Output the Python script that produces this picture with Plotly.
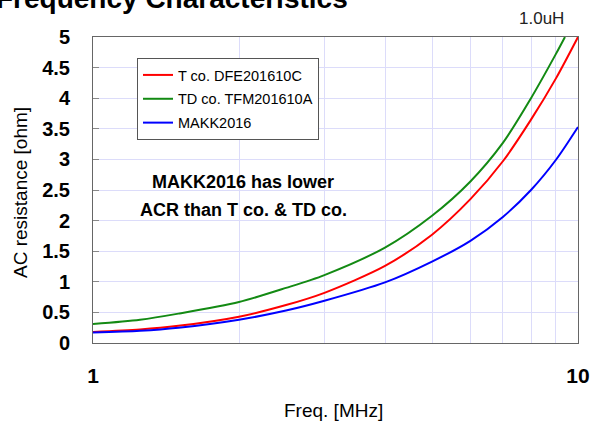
import plotly.graph_objects as go

# Data
freq_t = [1, 1.25, 1.5, 2, 2.5, 3, 4, 5, 6, 7, 8, 9, 10]
acr_t = [0.18, 0.22, 0.28, 0.43, 0.62, 0.82, 1.26, 1.77, 2.35, 2.97, 3.65, 4.32, 5.00]

freq_td = [1, 1.25, 1.5, 2, 2.5, 3, 4, 5, 6, 7, 8, 9, 9.4]
acr_td = [0.31, 0.38, 0.48, 0.67, 0.90, 1.11, 1.56, 2.08, 2.64, 3.27, 4.00, 4.72, 5.00]

freq_makk = [1, 1.25, 1.5, 2, 2.5, 3, 4, 5, 6, 7, 8, 9, 10]
acr_makk = [0.17, 0.20, 0.25, 0.38, 0.53, 0.69, 0.99, 1.33, 1.67, 2.06, 2.50, 2.99, 3.53]

names = ["T co. DFE201610C", "TD co. TFM201610A", "MAKK2016"]
colors = ["#ff0000", "#138a13", "#0000ff"]

x_tickvals = [1, 2, 3, 4, 5, 6, 7, 8, 9, 10]
x_ticktext = ["1", "", "", "", "", "", "", "", "", "10"]
y_tickvals = [0, 0.5, 1, 1.5, 2, 2.5, 3, 3.5, 4, 4.5, 5]
y_ticktext = ["0", "0.5", "1", "1.5", "2", "2.5", "3", "3.5", "4", "4.5", "5"]

FONT = "Liberation Sans, Arial, sans-serif"

# plot area geometry (pixels)
L, R, T, B = 93, 578, 37, 343
W, H = R - L, B - T


def px(xp):
    return (xp - L) / W


def py(yp):
    return (B - yp) / H


fig = go.Figure()
for i, (fx, fy) in enumerate([(freq_t, acr_t), (freq_td, acr_td), (freq_makk, acr_makk)]):
    fig.add_trace(go.Scatter(
        x=fx, y=fy, mode="lines", name=names[i],
        line=dict(color=colors[i], width=2, shape="spline", smoothing=0.8),
        legendgroup=f"g{i}",
    ))

fig.update_layout(
    width=593, height=425,
    margin=dict(l=L, r=593 - R, t=T, b=425 - B, autoexpand=False),
    paper_bgcolor="white", plot_bgcolor="white",
    font=dict(family=FONT, color="#000000"),
    showlegend=True,
    legend=dict(
        x=px(137), y=py(58), xanchor="left", yanchor="top",
        bordercolor="#555555", borderwidth=1, bgcolor="white",
        font=dict(size=14.5, family=FONT, color="#000000"),
        tracegroupgap=2, traceorder="grouped",
    ),
    xaxis=dict(
        type="log", range=[0, 1], automargin=False,
        tickvals=x_tickvals, ticktext=x_ticktext,
        showgrid=True, gridcolor="#dcdcfa", gridwidth=1,
        showline=True, linecolor="#666666", linewidth=1, mirror=True,
        ticks="", ticklabelstandoff=14,
        tickfont=dict(size=21, family=FONT, weight="bold"),
        zeroline=False,
    ),
    yaxis=dict(
        range=[0, 5], automargin=False,
        tickvals=y_tickvals, ticktext=y_ticktext,
        showgrid=True, gridcolor="#dcdcfa", gridwidth=1,
        showline=True, linecolor="#666666", linewidth=1, mirror=True,
        ticks="inside", ticklen=6, tickcolor="#888888",
        ticklabelstandoff=18,
        tickfont=dict(size=20, family=FONT, weight="bold"),
        zeroline=False,
    ),
    annotations=[
        dict(text="<b>Frequency Characteristics</b>", xref="paper", yref="paper",
             x=px(-6), y=py(16), xanchor="left", yanchor="bottom", showarrow=False,
             font=dict(size=28, family=FONT, color="#000000")),
        dict(text="1.0uH", xref="paper", yref="paper", x=px(566), y=py(18),
             xanchor="right", yanchor="middle", showarrow=False,
             font=dict(size=17, family=FONT, color="#222222")),
        dict(text="AC resistance [ohm]", xref="paper", yref="paper", x=px(20), y=py(193),
             xanchor="center", yanchor="middle", textangle=-90, showarrow=False,
             font=dict(size=19, family=FONT, color="#000000")),
        dict(text="Freq. [MHz]", xref="paper", yref="paper", x=px(333), y=py(410),
             xanchor="center", yanchor="middle", showarrow=False,
             font=dict(size=19, family=FONT, color="#000000")),
        dict(text="<b>MAKK2016 has lower</b>", xref="paper", yref="paper",
             x=px(243), y=py(182), xanchor="center", yanchor="middle",
             showarrow=False, font=dict(size=18, family=FONT, color="#000000")),
        dict(text="<b>ACR than T co. &amp; TD co.</b>", xref="paper", yref="paper",
             x=px(243), y=py(210), xanchor="center", yanchor="middle",
             showarrow=False, font=dict(size=18, family=FONT, color="#000000")),
    ],
)

fig.write_html(
    "out.html",
    config={"displayModeBar": False},
    post_script="document.body.style.margin='0';document.body.style.padding='0';",
)
